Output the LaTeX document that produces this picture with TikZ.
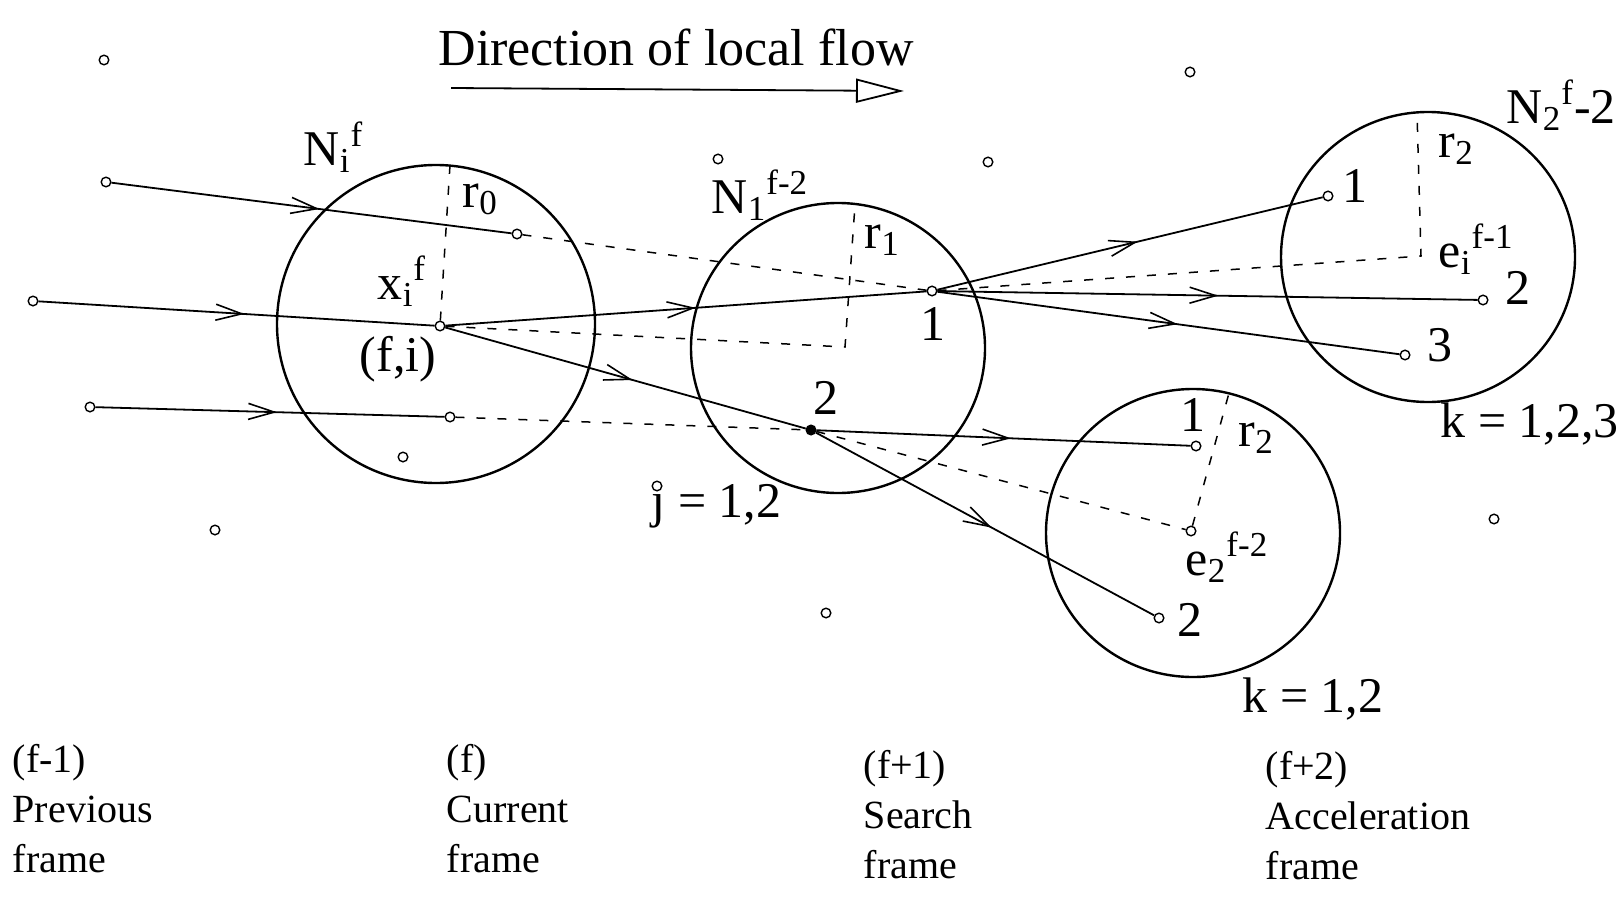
\documentclass[tikz,border=0pt]{standalone}
\usepackage{fontspec}
\setmainfont{Liberation Serif}
\usetikzlibrary{arrows.meta,decorations.markings}

\tikzset{every picture/.style={line width=0.75pt}}
\tikzset{
  pnt/.style={circle,draw,fill=white,inner sep=0pt,minimum size=4.8pt,line width=0.7pt},
  flowline/.style={line width=0.9pt,postaction={decorate},decoration={markings,mark=at position 0.52 with {\arrow{Straight Barb[length=13pt,width=8pt,line width=0.8pt]}}}},
  guideline/.style={dash pattern=on 4.5pt off 6pt,line width=0.75pt},
  ring/.style={line width=1.2pt},
  lbl/.style={inner sep=0pt,font=\fontsize{25}{30}\selectfont},
  frametext/.style={inner sep=0pt,align=left,anchor=north west,font=\fontsize{20}{25}\selectfont},
}

\begin{document}
\begin{tikzpicture}[x=0.5pt,y=0.5pt,yscale=-1,xscale=1]
\path[use as bounding box] (0,0) rectangle (1620,904);

%Shape: Circle (current frame)
\draw[ring] (436,324) ellipse [x radius=159,y radius=159];
%Shape: Circle (search frame)
\draw[ring] (838,348) ellipse [x radius=147,y radius=145];
%Shape: Circle (acceleration frame, lower)
\draw[ring] (1193,533) ellipse [x radius=147,y radius=144];
%Shape: Circle (acceleration frame, upper)
\draw[ring] (1428,257) ellipse [x radius=147,y radius=145];

% previous frame points
\node[pnt] (p0) at (104,60) {};
\node[pnt] (p1) at (106,182) {};
\node[pnt] (p2) at (33,301) {};
\node[pnt] (p3) at (90,407) {};
\node[pnt] (p4) at (215,530) {};
% current frame points
\node[pnt] (c1) at (517,234) {};
\node[pnt] (xi) at (440,326) {};
\node[pnt] (c3) at (450,417) {};
\node[pnt] (c4) at (403,457) {};
% search frame points
\node[pnt] (s0) at (718,159) {};
\node[pnt] (s1) at (932,291) {};
\node[pnt,fill=black] (s2) at (811,430) {};
\node[pnt] (s3) at (988,162) {};
\node[pnt] (s4) at (826,613) {};
% acceleration frame points
\node[pnt] (a0) at (1190,72) {};
\node[pnt] (a1) at (1328,196) {};
\node[pnt] (a2) at (1483,300) {};
\node[pnt] (a3) at (1405,355) {};
\node[pnt] (a4) at (1494,519) {};
\node[pnt] (b1) at (1196,446) {};
\node[pnt] (e2) at (1191,531) {};
\node[pnt] (b2) at (1159,618) {};

% radius ends and predicted centres
\coordinate (rA) at (450,165);
\coordinate (cB) at (845,347);
\coordinate (rB) at (855,205);
\coordinate (eD) at (1421,256);
\coordinate (rD) at (1417,113);
\coordinate (rC) at (1229,393);

%Dashed Lines
\draw[guideline] (xi) -- (rA);
\draw[guideline] (c1) -- (s1);
\draw[guideline] (xi) -- (cB) -- (rB);
\draw[guideline] (c3) -- (s2);
\draw[guideline] (s2) -- (e2);
\draw[guideline] (e2) -- (rC);
\draw[guideline] (s1) -- (eD) -- (rD);

%Straight Lines with arrows
\draw[flowline] (p1) -- (c1);
\draw[flowline] (p2) -- (xi);
\draw[flowline] (p3) -- (c3);
\draw[flowline] (xi) -- (s1);
\draw[flowline] (xi) -- (s2);
\draw[flowline] (s1) -- (a1);
\draw[flowline] (s1) -- (a2);
\draw[flowline] (s1) -- (a3);
\draw[flowline] (s2) -- (b1);
\draw[flowline] (s2) -- (b2);

% Direction arrow
\node[lbl,font=\fontsize{26}{30}\selectfont] (title) at (676,47) {Direction of local flow};
\coordinate (fl1) at (451,88);
\coordinate (fl2) at (904,91);
\draw[line width=0.9pt,-{Triangle[open,length=24pt,width=12pt,line width=0.9pt]}] (fl1) -- (fl2);

% Text Node
\node[lbl,anchor=base west] (Nif) at (303,165) {N\textsubscript{i}\textsuperscript{f}};
% Text Node
\node[lbl,anchor=base west] (r0) at (462,207) {r\textsubscript{0}};
% Text Node
\node[lbl,anchor=base west] (xif) at (377,299) {x\textsubscript{i}\textsuperscript{f}};
% Text Node
\node[lbl] (fi) at (398,359) {(f,i)};
% Text Node
\node[lbl,anchor=base west] (N1) at (711,213) {N\textsubscript{1}\textsuperscript{f-2}};
% Text Node
\node[lbl,anchor=base west] (r1) at (864,248) {r\textsubscript{1}};
% Text Node
\node[lbl] (s1l) at (933,324) {1};
% Text Node
\node[lbl] (s2l) at (826,398) {2};
% Text Node
\node[lbl,anchor=base west] (jl) at (651,517) {j = 1,2};
\node[pnt] (jdot) at (657,486) {};
% Text Node
\node[lbl,anchor=base west] (N2) at (1506,123) {N\textsubscript{2}\textsuperscript{f}-2};
% Text Node
\node[lbl,anchor=base west] (r2a) at (1438,157) {r\textsubscript{2}};
% Text Node
\node[lbl,anchor=base west] (ei) at (1438,267) {e\textsubscript{i}\textsuperscript{f-1}};
% Text Node
\node[lbl] (a1l) at (1355,186) {1};
% Text Node
\node[lbl] (a2l) at (1518,288) {2};
% Text Node
\node[lbl] (a3l) at (1440,345) {3};
% Text Node
\node[lbl,anchor=base west] (k3) at (1440,437) {k = 1,2,3};
% Text Node
\node[lbl] (b1l) at (1193,415) {1};
% Text Node
\node[lbl,anchor=base west] (r2b) at (1238,446) {r\textsubscript{2}};
% Text Node
\node[lbl,anchor=base west] (e2l) at (1185,575) {e\textsubscript{2}\textsuperscript{f-2}};
% Text Node
\node[lbl] (b2l) at (1190,620) {2};
% Text Node
\node[lbl,anchor=base west] (k2) at (1242,712) {k = 1,2};

% Frame captions
\node[frametext] (fprev) at (12,744) {(f-1)\\Previous\\frame};
\node[frametext] (fcur) at (446,744) {(f)\\Current\\frame};
\node[frametext] (fsearch) at (863,750) {(f+1)\\Search\\frame};
\node[frametext] (facc) at (1265,751) {(f+2)\\Acceleration\\frame};

\end{tikzpicture}
\end{document}
